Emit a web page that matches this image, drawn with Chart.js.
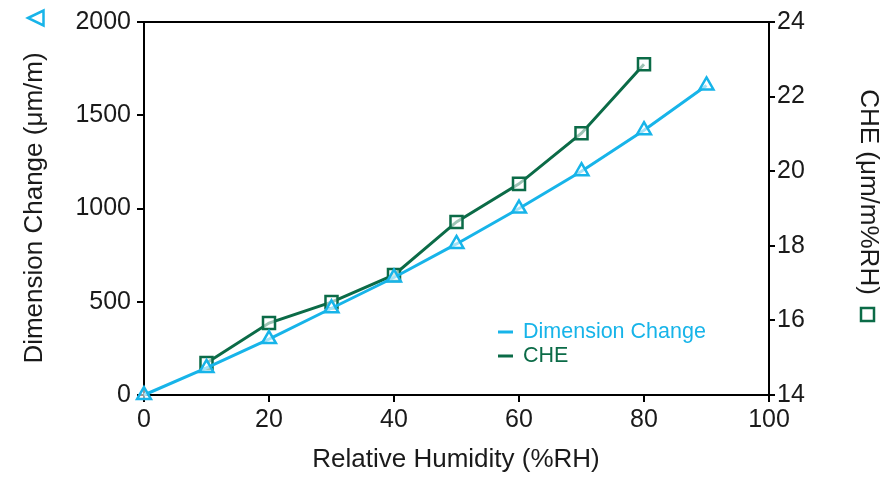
<!DOCTYPE html>
<html><head><meta charset="utf-8">
<script src="https://cdn.jsdelivr.net/npm/chart.js@4"></script>
<style>html,body{margin:0;padding:0;background:#fff;}canvas{display:block;}</style>
</head><body><canvas id="c" width="884" height="480"></canvas>
<script>
const humidity = [0, 10, 20, 30, 40, 50, 60, 70, 80, 90];
const dimensionChange = [0, 145, 300, 465, 630, 810, 1000, 1200, 1420, 1660];
const che = [null, 14.86, 15.93, 16.49, 17.22, 18.64, 19.66, 21.02, 22.87, null];
const xTicks = [0, 20, 40, 60, 80, 100];
const leftTicks = [0, 500, 1000, 1500, 2000];
const rightTicks = [14, 16, 18, 20, 22, 24];
const seriesNames = ['Dimension Change', 'CHE'];
const xTitle = 'Relative Humidity (%RH)';
const leftTitle = 'Dimension Change (μm/m)';
const rightTitle = 'CHE (μm/m%RH)';

const CYAN = '#17b4e9', GREEN = '#0b6b47', TXT = '#1a1a1a';
const FONT = 'Liberation Sans';
const FS = 25, TFS = 26;

const toPts = (ys) => humidity.map((x, i) => ({x, y: ys[i]})).filter(p => p.y !== null);

const decor = {
  id: 'decor',
  afterDraw(chart) {
    const ctx = chart.ctx, a = chart.chartArea;
    ctx.save();
    ctx.strokeStyle = '#000'; ctx.lineWidth = 2;
    ctx.beginPath(); ctx.moveTo(a.left - 1, a.top); ctx.lineTo(a.right + 1, a.top); ctx.stroke();
    ctx.fillStyle = TXT; ctx.font = TFS + 'px "' + FONT + '"';
    ctx.textAlign = 'center'; ctx.textBaseline = 'middle';
    ctx.fillText(xTitle, 456, 460);
    ctx.save();
    ctx.translate(35, 208); ctx.rotate(-Math.PI / 2);
    ctx.fillText(leftTitle, 0, 0);
    ctx.restore();
    ctx.strokeStyle = CYAN; ctx.lineWidth = 2.5; ctx.lineJoin = 'miter';
    ctx.beginPath(); ctx.moveTo(28, 18); ctx.lineTo(43.5, 10.5); ctx.lineTo(43.5, 25.5); ctx.closePath(); ctx.stroke();
    ctx.save();
    ctx.translate(868, 192); ctx.rotate(Math.PI / 2);
    ctx.fillText(rightTitle, 0, 0);
    ctx.restore();
    ctx.strokeStyle = GREEN; ctx.lineWidth = 2.5;
    ctx.strokeRect(861, 308, 13, 13);
    const cols = [CYAN, GREEN];
    ctx.font = '21.5px "' + FONT + '"'; ctx.textAlign = 'left';
    seriesNames.forEach((n, i) => {
      const y = 332 + i * 24;
      ctx.strokeStyle = cols[i]; ctx.lineWidth = 3;
      ctx.beginPath(); ctx.moveTo(498, y); ctx.lineTo(513, y); ctx.stroke();
      ctx.fillStyle = cols[i]; ctx.fillText(n, 523, y);
    });
    ctx.restore();
  }
};

const plain = v => String(v);

new Chart(document.getElementById('c'), {
  type: 'line',
  data: {
    datasets: [
      { label: seriesNames[0], data: toPts(dimensionChange), yAxisID: 'y', borderColor: CYAN, backgroundColor: '#fff',
        borderWidth: 3, pointStyle: 'triangle', pointRadius: 8, pointBorderWidth: 2.5, pointBackgroundColor: 'rgba(255,255,255,0.6)', pointBorderColor: CYAN, tension: 0, clip: false },
      { label: seriesNames[1], data: toPts(che), yAxisID: 'y2', borderColor: GREEN, backgroundColor: '#fff',
        borderWidth: 3, pointStyle: 'rect', pointRadius: 8.5, pointBorderWidth: 2.5, pointBackgroundColor: 'rgba(255,255,255,0.6)', pointBorderColor: GREEN, tension: 0, clip: false }
    ]
  },
  options: {
    responsive: false, maintainAspectRatio: false, animation: false, devicePixelRatio: 1,
    layout: { padding: { top: 22, left: 0, right: 0, bottom: 0 } },
    plugins: { legend: { display: false }, tooltip: { enabled: false } },
    scales: {
      x: {
        type: 'linear', min: 0, max: 100,
        afterFit: s => { s.height = 85; },
        afterBuildTicks: s => { s.ticks = xTicks.map(v => ({value: v})); },
        grid: { drawOnChartArea: false, drawTicks: true, tickLength: 7, color: '#000', lineWidth: 2 },
        border: { display: true, color: '#000', width: 2 },
        ticks: { color: TXT, font: { family: FONT, size: FS }, padding: 3, maxRotation: 0, callback: plain }
      },
      y: {
        position: 'left', min: 0, max: 2000,
        afterFit: s => { s.width = 144; },
        afterBuildTicks: s => { s.ticks = leftTicks.map(v => ({value: v})); },
        grid: { drawOnChartArea: false, drawTicks: true, tickLength: 7, color: '#000', lineWidth: 2 },
        border: { display: true, color: '#000', width: 2 },
        ticks: { color: TXT, font: { family: FONT, size: FS }, padding: 6, callback: plain }
      },
      y2: {
        position: 'right', min: 14, max: 24,
        afterFit: s => { s.width = 115; },
        afterBuildTicks: s => { s.ticks = rightTicks.map(v => ({value: v})); },
        grid: { drawOnChartArea: false, drawTicks: true, tickLength: 6, color: '#000', lineWidth: 2 },
        border: { display: true, color: '#000', width: 2 },
        ticks: { color: TXT, font: { family: FONT, size: FS }, padding: 2, callback: plain }
      }
    }
  },
  plugins: [decor]
});
</script></body></html>
